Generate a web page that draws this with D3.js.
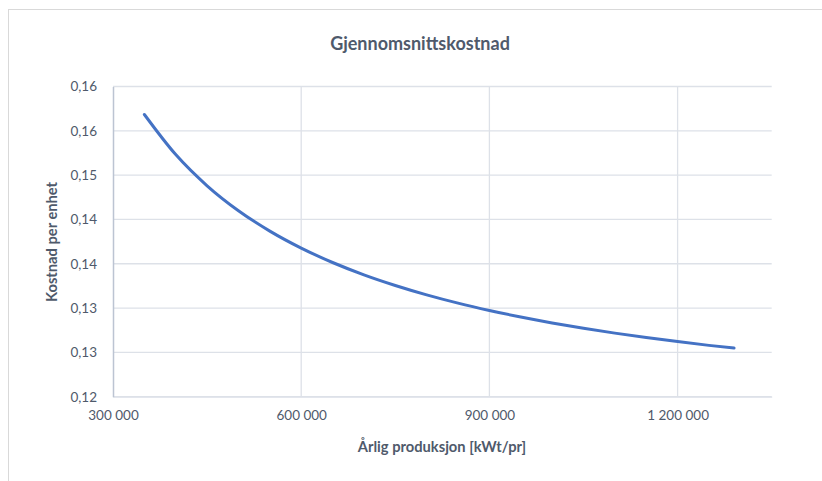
<!DOCTYPE html>
<html>
<head>
<meta charset="utf-8">
<script src="https://cdn.jsdelivr.net/npm/d3@7"></script>
<style>
  body { margin: 0; background: #fff; }
  svg { display: block; font-family: Lato, "Open Sans", sans-serif; }
</style>
</head>
<body>
<svg id="chart" width="822" height="481"></svg>
<script>
// Production (kWt per year) and average cost per unit
const production = [350000, 400000, 450000, 500000, 550000, 600000, 650000, 700000, 750000, 800000,
  850000, 900000, 950000, 1000000, 1050000, 1100000, 1150000, 1200000, 1250000, 1290000];
const avgCost = [0.15821, 0.15278, 0.14856, 0.14518, 0.14242, 0.14012, 0.13817, 0.13650, 0.13506, 0.13379,
  0.13267, 0.13168, 0.13079, 0.12999, 0.12927, 0.12861, 0.12801, 0.12746, 0.12695, 0.12658];

const xTicks = [300000, 600000, 900000, 1200000];
const yTicks = [0.12, 0.126, 0.132, 0.138, 0.144, 0.15, 0.156, 0.162];

const title = "Gjennomsnittskostnad";
const xTitle = "Årlig produksjon [kWt/pr]";
const yTitle = "Kostnad per enhet";

const textColor = "#4f5a6b";
const gridColor = "#dde1e8";
const lineColor = "#4472c4";

const svg = d3.select("#chart");
const margin = { top: 86.5, right: 50.3, bottom: 84.3, left: 113 };
const width = 822, height = 481;

// chart frame
svg.append("rect")
  .attr("x", 8.5).attr("y", 9.5)
  .attr("width", 830).attr("height", 500)
  .attr("fill", "#fff")
  .attr("stroke", "#d9d9d9");

const x = d3.scaleLinear()
  .domain([300000, 1350000])
  .range([margin.left, width - margin.right]);

const y = d3.scaleLinear()
  .domain([0.12, 0.162])
  .range([height - margin.bottom, margin.top]);

const fmtX = v => d3.format(",")(v).replace(/,/g, " ");
const fmtY = v => d3.format(".2f")(v).replace(".", ",");

// horizontal gridlines
svg.append("g")
  .selectAll("line")
  .data(yTicks)
  .join("line")
  .attr("x1", x.range()[0]).attr("x2", x.range()[1])
  .attr("y1", d => y(d)).attr("y2", d => y(d))
  .attr("stroke", gridColor)
  .attr("stroke-width", 1.3);

// vertical gridlines
svg.append("g")
  .selectAll("line")
  .data(xTicks.slice(1))
  .join("line")
  .attr("x1", d => x(d)).attr("x2", d => x(d))
  .attr("y1", y.range()[0]).attr("y2", y.range()[1])
  .attr("stroke", gridColor)
  .attr("stroke-width", 1.3);

// axes (lines + labels)
const xAxis = svg.append("g")
  .attr("transform", `translate(0,${y.range()[0]})`)
  .call(d3.axisBottom(x).tickValues(xTicks).tickFormat(fmtX).tickSize(0).tickPadding(14));
xAxis.select(".domain").attr("stroke", gridColor).attr("stroke-width", 1.3);
xAxis.selectAll("text").attr("fill", textColor).attr("font-size", 13.5).attr("font-family", "Lato, sans-serif");

const yAxis = svg.append("g")
  .attr("transform", `translate(${x.range()[0]},0)`)
  .call(d3.axisLeft(y).tickValues(yTicks).tickFormat(fmtY).tickSize(0).tickPadding(16));
yAxis.select(".domain").attr("stroke", "#bcc4d2").attr("stroke-width", 1.5);
yAxis.selectAll("text").attr("fill", textColor).attr("font-size", 13.5).attr("font-family", "Lato, sans-serif");

// the average cost curve
const line = d3.line()
  .x((d, i) => x(production[i]))
  .y(d => y(d))
  .curve(d3.curveMonotoneX);

svg.append("path")
  .datum(avgCost)
  .attr("d", line)
  .attr("fill", "none")
  .attr("stroke", lineColor)
  .attr("stroke-width", 3)
  .attr("stroke-linecap", "round");

// titles
svg.append("text")
  .attr("x", 420).attr("y", 50)
  .attr("text-anchor", "middle")
  .attr("font-size", 18)
  .attr("font-weight", "bold")
  .attr("fill", textColor)
  .text(title);

svg.append("text")
  .attr("x", 442).attr("y", 452)
  .attr("text-anchor", "middle")
  .attr("font-size", 14.7)
  .attr("font-weight", "bold")
  .attr("fill", textColor)
  .text(xTitle);

svg.append("text")
  .attr("transform", "translate(57,242) rotate(-90)")
  .attr("text-anchor", "middle")
  .attr("font-size", 14.7)
  .attr("font-weight", "bold")
  .attr("fill", textColor)
  .text(yTitle);
</script>
</body>
</html>
